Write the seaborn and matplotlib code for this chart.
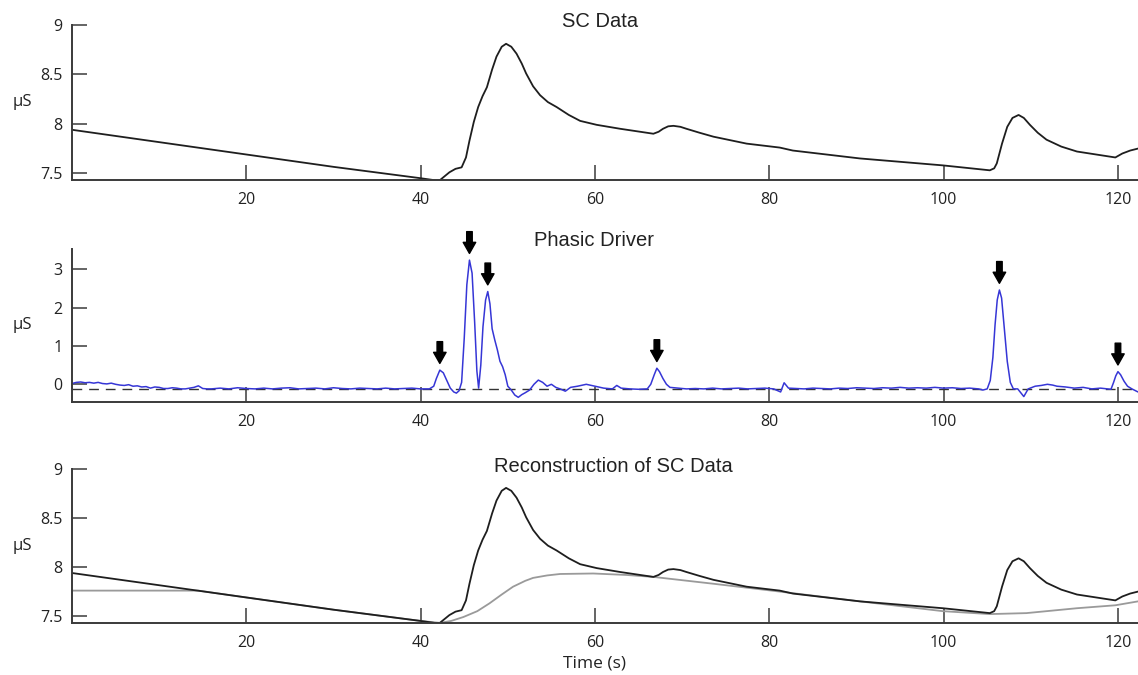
import numpy as np
import pandas as pd
import matplotlib
matplotlib.use("Agg")
import matplotlib.pyplot as plt
import seaborn as sns

# ---------------- data ----------------
sc_time = [0, 10, 20, 30, 40, 41.6, 42.2, 43.3, 44.0, 44.7, 45.2, 45.6, 46.1, 46.6,
           47.1, 47.6, 48.2, 48.7, 49.3, 49.8, 50.4, 51.0, 51.6, 52.1, 52.9, 53.7,
           54.6, 55.6, 57.0, 58.3, 60.2, 62.9, 66.7, 67.3, 67.8, 68.4, 69.0, 69.8,
           70.5, 72.0, 73.6, 77.4, 81.2, 82.7, 90.4, 99.9, 105.3, 105.8, 106.1,
           106.7, 107.3, 107.9, 108.6, 109.2, 109.9, 110.8, 111.8, 113.5, 115.3,
           117.5, 119.7, 120.5, 121.4, 122.3]
sc_value = [7.94, 7.815, 7.69, 7.565, 7.45, 7.43, 7.43, 7.51, 7.545, 7.56, 7.66, 7.83,
            8.02, 8.17, 8.28, 8.37, 8.55, 8.68, 8.78, 8.81, 8.78, 8.71, 8.61, 8.51,
            8.38, 8.29, 8.22, 8.17, 8.09, 8.03, 7.99, 7.95, 7.90, 7.92, 7.95, 7.975,
            7.98, 7.97, 7.95, 7.91, 7.87, 7.80, 7.76, 7.73, 7.65, 7.58, 7.53, 7.55,
            7.60, 7.80, 7.97, 8.06, 8.09, 8.06, 7.99, 7.91, 7.84, 7.77, 7.72, 7.69,
            7.66, 7.70, 7.73, 7.75]

tonic_time = [0, 14.5, 20, 30, 40, 42.2, 43.5, 44.9, 46.5, 47.9, 49.3, 50.6, 52.0, 52.9,
              54.5, 56.0, 59.8, 63.6, 66.7, 73.6, 81.2, 90.4, 99.9, 105.3, 109.5,
              115.3, 119.7, 122.3]
tonic_value = [7.76, 7.76, 7.69, 7.565, 7.45, 7.43, 7.45, 7.49, 7.55, 7.63, 7.72, 7.80,
               7.86, 7.89, 7.915, 7.93, 7.935, 7.92, 7.90, 7.83, 7.75, 7.65, 7.55,
               7.52, 7.53, 7.58, 7.61, 7.65]

driver_time = [0, 0.5, 1, 1.5, 2, 2.5, 3, 3.5, 4, 4.5, 5, 5.5, 6, 6.5, 7, 7.5, 8, 8.5,
               9, 9.5, 10, 10.5, 11, 11.5, 12, 12.5, 13, 13.5, 14, 14.5, 15, 15.5, 16,
               17, 18, 19, 20, 21, 22, 23, 24, 25, 26, 27, 28, 29, 30, 31, 32, 33, 34,
               35, 36, 37, 38, 39, 40, 41.0, 41.5, 41.8, 42.2, 42.6, 43.0, 43.4, 43.8,
               44.1, 44.4, 44.7, 45.0, 45.3, 45.6, 45.9, 46.2, 46.45, 46.65, 46.9, 47.15,
               47.45, 47.7, 47.95, 48.2, 48.5, 48.8, 49.1, 49.4, 49.7, 50.0, 50.4, 50.8,
               51.2, 51.6, 52.0, 52.5, 53.0, 53.5, 54.0, 54.5, 55.0, 55.5, 56.0, 56.6,
               57.2, 58.0, 59.0, 60.0, 61.0, 62.0, 62.5, 63.0, 64.0, 65.0, 66.0, 66.4,
               66.8, 67.1, 67.4, 67.8, 68.2, 68.6, 69.5, 70.5, 71.5, 72.5, 73.5, 74.5,
               75.5, 76.5, 77.5, 78.5, 79.5, 80.5, 81.3, 81.7, 82.2, 83, 84, 85, 86, 87,
               88, 89, 90, 91, 92, 93, 94, 95, 96, 97, 98, 99, 100, 101, 102, 103, 104,
               104.5, 105.0, 105.35, 105.65, 105.9, 106.15, 106.4, 106.65, 106.95, 107.3,
               107.65, 108.0, 108.5, 109.2, 109.7, 110.5, 111.2, 111.9, 112.5, 113, 114,
               115, 116, 117, 118, 119.2, 119.5, 119.75, 120.0, 120.3, 120.7, 121.1,
               121.6, 122.3]
driver_value = [0.02, 0.05, 0.06, 0.04, 0.05, 0.03, 0.05, 0.02, 0.01, 0.03, 0.0, -0.02,
                -0.03, -0.01, -0.05, -0.04, -0.07, -0.06, -0.10, -0.07, -0.08, -0.11,
                -0.11, -0.09, -0.10, -0.12, -0.12, -0.10, -0.08, -0.04, -0.11, -0.12,
                -0.12, -0.10, -0.12, -0.09, -0.11, -0.12, -0.10, -0.12, -0.10, -0.09,
                -0.12, -0.11, -0.10, -0.12, -0.09, -0.11, -0.12, -0.10, -0.11, -0.12,
                -0.10, -0.12, -0.11, -0.10, -0.12, -0.12, -0.05, 0.15, 0.37, 0.30, 0.10,
                -0.10, -0.20, -0.23, -0.17, 0.05, 1.2, 2.6, 3.24, 2.9, 1.6, 0.35, -0.1,
                0.5, 1.5, 2.2, 2.42, 2.1, 1.45, 1.16, 0.9, 0.6, 0.46, 0.25, -0.05, -0.15,
                -0.28, -0.34, -0.27, -0.22, -0.15, 0.0, 0.11, 0.05, -0.05, 0.0, -0.08,
                -0.12, -0.18, -0.08, -0.05, 0.0, -0.05, -0.10, -0.12, -0.03, -0.10, -0.12,
                -0.13, -0.12, 0.0, 0.25, 0.42, 0.33, 0.15, 0.0, -0.08, -0.10, -0.12,
                -0.11, -0.12, -0.10, -0.12, -0.11, -0.10, -0.12, -0.11, -0.10, -0.12,
                -0.20, 0.04, -0.10, -0.11, -0.12, -0.10, -0.11, -0.12, -0.10, -0.11,
                -0.09, -0.10, -0.11, -0.09, -0.10, -0.08, -0.10, -0.09, -0.10, -0.08,
                -0.10, -0.09, -0.11, -0.10, -0.12, -0.15, -0.12, 0.1, 0.7, 1.55, 2.2,
                2.46, 2.25, 1.5, 0.6, 0.05, -0.12, -0.12, -0.32, -0.12, -0.05, -0.03,
                0.0, -0.02, -0.05, -0.07, -0.10, -0.08, -0.12, -0.10, -0.13, 0.05, 0.22,
                0.33, 0.25, 0.08, -0.05, -0.12, -0.20]

peak_times = [42.2, 45.6, 47.7, 67.1, 106.4, 120.0]
peak_amps = [0.37, 3.24, 2.42, 0.42, 2.46, 0.33]
driver_baseline = -0.12

x_ticks = [20, 40, 60, 80, 100, 120]
sc_ticks = [7.5, 8, 8.5, 9]
sc_tick_labels = ["7.5", "8", "8.5", "9"]
drv_ticks = [0, 1, 2, 3]
drv_tick_labels = ["0", "1", "2", "3"]
titles = ["SC Data", "Phasic Driver", "Reconstruction of SC Data"]

# ---------------- styling ----------------
sns.set_style("ticks")
plt.rcParams["font.family"] = ["Open Sans", "DejaVu Sans"]

sc_df = pd.DataFrame({"t": sc_time, "v": sc_value})
tonic_df = pd.DataFrame({"t": tonic_time, "v": tonic_value})
drv_df = pd.DataFrame({"t": driver_time, "v": driver_value})

W, H = 1138, 675
fig = plt.figure(figsize=(W / 100, H / 100), dpi=100)

def frac_axes(top_px, bottom_px):
    left = 72 / W
    return fig.add_axes([left, 1 - bottom_px / H, 1 - left, (bottom_px - top_px) / H])

ax1 = frac_axes(25, 180)
ax2 = frac_axes(249, 401.7)
ax3 = frac_axes(469.3, 622.7)

spine_col = "#3a3a3a"

# top: SC data
sns.lineplot(data=sc_df, x="t", y="v", ax=ax1, color="#1e1e1e", lw=1.3,
             estimator=None, sort=False)
ax1.set_ylim(7.432, 9.0)
ax1.set_yticks(sc_ticks)
ax1.set_yticklabels(sc_tick_labels)

# middle: phasic driver
ax2.axhline(driver_baseline, color="#333333", lw=1.0, dashes=(7, 5), zorder=1)
sns.lineplot(data=drv_df, x="t", y="v", ax=ax2, color="#3636d6", lw=1.1,
             estimator=None, sort=False, zorder=2)
ax2.set_ylim(-0.454, 3.53)
ax2.set_yticks(drv_ticks)
ax2.set_yticklabels(drv_tick_labels)
for t, a in zip(peak_times, peak_amps):
    ax2.annotate("", xy=(t, a), xytext=(0, 20.5), textcoords="offset points",
                 arrowprops=dict(arrowstyle="simple,head_length=0.8,head_width=0.9,tail_width=0.4",
                                 color="black", shrinkA=0, shrinkB=4.8, mutation_scale=10),
                 annotation_clip=False)

# bottom: reconstruction
sns.lineplot(data=tonic_df, x="t", y="v", ax=ax3, color="#9a9a9a", lw=1.3,
             estimator=None, sort=False)
sns.lineplot(data=sc_df, x="t", y="v", ax=ax3, color="#1e1e1e", lw=1.3,
             estimator=None, sort=False)
ax3.set_ylim(7.432, 9.0)
ax3.set_yticks(sc_ticks)
ax3.set_yticklabels(sc_tick_labels)

for ax in (ax1, ax2, ax3):
    ax.set_xlim(0, 122.3)
    for s in ("top", "right"):
        ax.spines[s].set_visible(False)
    for s in ("left", "bottom"):
        ax.spines[s].set_color(spine_col)
        ax.spines[s].set_linewidth(1.4)
    ax.set_xticks(x_ticks)
    ax.set_xticklabels([str(v) for v in x_ticks])
    ax.tick_params(direction="in", length=11, width=1.1, color=spine_col,
                   labelsize=11.5, labelcolor="#222222")
    ax.tick_params(axis="x", pad=9)
    ax.tick_params(axis="y", pad=7)
    ax.set_xlabel("")
    ax.set_ylabel("µS", rotation=0, fontsize=12, color="#222222", va="center", ha="center")
    ax.yaxis.set_label_coords(-50 / (W - 72), 0.5)

# titles
title_centers = [600, 594, 613]
title_baselines = [27, 246, 472]
for txt, cx, by in zip(titles, title_centers, title_baselines):
    fig.text(cx / W, 1 - by / H, txt, ha="center", va="baseline", fontsize=14.5,
             family=["Liberation Sans", "DejaVu Sans"], color="#222222")

fig.text(594.7 / W, 1 - 663 / H, "Time (s)", ha="center", va="center", fontsize=12.5,
         color="#222222")

fig.savefig("out.png", dpi=100)
